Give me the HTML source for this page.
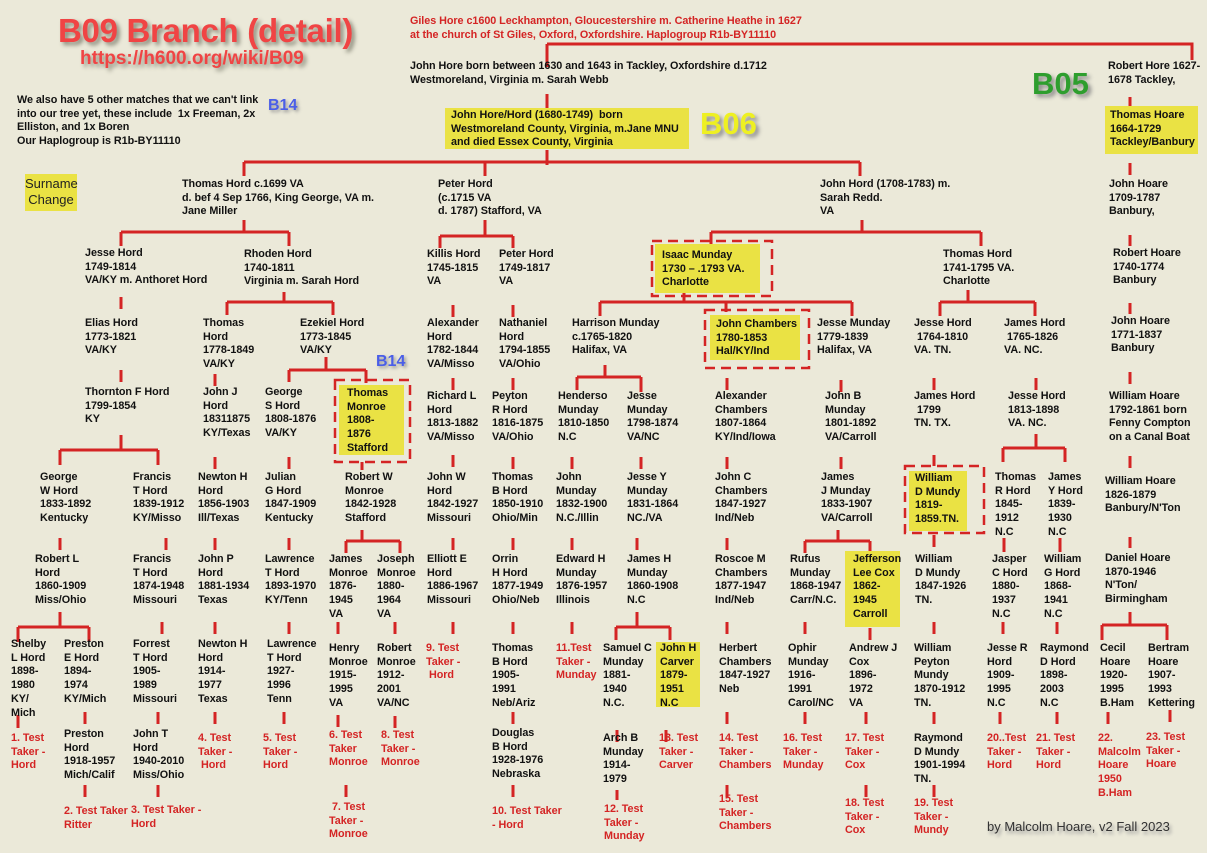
<!DOCTYPE html>
<html><head><meta charset="utf-8"><style>
body{margin:0;}
#c{position:relative;width:1207px;height:853px;background:#ebe9d9;overflow:hidden;font-family:"Liberation Sans",sans-serif;}
.t{position:absolute;font-weight:bold;font-size:10.8px;line-height:13.7px;color:#111;white-space:nowrap;letter-spacing:-0.05px;}
.r{color:#d42424;}
.y{position:absolute;background:#eae244;}
svg{position:absolute;left:0;top:0;}
</style></head><body><div id="c">
<svg width="1207" height="853">
<g stroke="#d42424" stroke-width="3" fill="none">
<path d="M547 44V67M547 44H1192V60M547 94V108M547 150V165M244 162H860M244 162V176M485 162V176M860 162V176"/>
<path d="M1130 97V108M1130 163V175M1130 235V246M1130 303V314M1130 372V384M1130 456V468M1130 537V548M1130 612V625M1102 625H1167M1102 625V640M1167 625V640"/>
<path d="M244 220V232M121 232H289M121 232V246M289 232V246"/>
<path d="M485 220V236M440 236H513M440 236V248M513 236V248"/>
<path d="M862 220V232M711 232H981M711 232V245M981 232V246"/>
<path d="M121 297V309M121 370V382M121 435V450M60 450H158M60 450V465M158 450V465M60 538V550M166 538V550M162 622V634M158 712V724M158 785V797"/>
<path d="M284 292V302M227 302H333M227 302V315M333 302V315"/>
<path d="M215 374V386M215 457V469M215 538V550M215 622V634M215 712V724"/>
<path d="M326 357V370M289 370H366M289 370V382M366 370V383M289 457V469M289 538V550M289 622V634M284 712V724"/>
<path d="M362 462V470M362 530V541M346 541H400M346 541V553M400 541V553M338 622V634M338 715V727M346 785V797M395 622V634M395 716V728"/>
<path d="M453 305V317M453 378V390M453 455V467M453 538V550M453 622V634"/>
<path d="M513 305V317M513 378V390M513 457V469M513 538V550M513 622V634M513 712V724M513 785V797"/>
<path d="M684 293V302M600 302H852M600 302V316M726 302V312M852 302V316"/>
<path d="M605 365V377M577 377H641M577 377V390M641 377V392M572 457V469M572 538V550M572 622V634"/>
<path d="M641 457V469M637 538V550M637 612V627M616 627H670M616 627V640M670 627V640M617 730V742M617 790V800M666 730V742"/>
<path d="M727 378V390M727 457V469M727 538V550M727 622V634M727 712V724M727 785V797"/>
<path d="M841 380V392M841 457V469M838 530V541M805 541H870M805 541V553M870 541V553M805 622V634M805 712V724M870 628V640M866 712V724M866 785V797"/>
<path d="M968 290V302M940 302H1035M940 302V316M1035 302V316"/>
<path d="M934 378V390M934 455V466M934 535V547M934 622V634M934 712V724M934 785V797"/>
<path d="M1036 378V390M1036 434V448M1003 448H1065M1003 448V462M1065 448V462M1004 538V552M1060 538V552M1003 622V634M1000 712V724M1057 622V634M1057 712V724"/>
<path d="M1108 712V724M1170 710V722"/>
<path d="M60 612V627M18 627H89M18 627V642M89 627V642M18 715V728M85 712V724M85 785V797"/>
</g>
</svg>
<div class="y" style="left:25px;top:174px;width:52px;height:37px"></div>
<div class="y" style="left:445px;top:108px;width:244px;height:41px"></div>
<div class="y" style="left:1105px;top:106px;width:93px;height:48px"></div>
<div class="y" style="left:655px;top:244px;width:105px;height:49px"></div>
<div class="y" style="left:710px;top:315px;width:90px;height:45px"></div>
<div class="y" style="left:339px;top:385px;width:65px;height:70px"></div>
<div class="y" style="left:909px;top:471px;width:58px;height:60px"></div>
<div class="y" style="left:845px;top:551px;width:55px;height:76px"></div>
<div class="y" style="left:656px;top:642px;width:44px;height:65px"></div>
<svg width="1207" height="853"><g stroke="#d42424" stroke-width="2.5" fill="none" stroke-dasharray="10,6">
<rect x="652" y="241" width="120" height="55"/>
<rect x="705" y="310" width="104" height="58"/>
<rect x="335" y="380" width="75" height="82"/>
<rect x="905" y="466" width="79" height="67"/>
</g></svg>
<div style="position:absolute;left:58px;top:12px;font:bold 33px 'Liberation Sans',sans-serif;color:#f04444;text-shadow:3px 3px 4px #8a8a7a;white-space:nowrap;letter-spacing:-0.3px">B09 Branch (detail)</div>
<div style="position:absolute;left:80px;top:48px;font:bold 19px 'Liberation Sans',sans-serif;color:#f04444;text-shadow:3px 3px 4px #8a8a7a;white-space:nowrap">https://h600.org/wiki/B09</div>
<div style="position:absolute;left:268px;top:97px;font:bold 16px 'Liberation Sans',sans-serif;color:#4a5ee8;text-shadow:2px 2px 3px #999">B14</div>
<div style="position:absolute;left:376px;top:353px;font:bold 16px 'Liberation Sans',sans-serif;color:#4a5ee8;text-shadow:2px 2px 3px #999">B14</div>
<div style="position:absolute;left:700px;top:106px;font:bold 31px 'Liberation Sans',sans-serif;color:#eef022;text-shadow:3px 3px 4px #888">B06</div>
<div style="position:absolute;left:1032px;top:66px;font:bold 31px 'Liberation Sans',sans-serif;color:#2e9e2e;text-shadow:3px 3px 4px #888">B05</div>
<div style="position:absolute;left:25px;top:176px;width:52px;text-align:center;font:13px/16px 'Liberation Sans',sans-serif;color:#222">Surname<br>Change</div>
<div style="position:absolute;left:987px;top:819px;font:13px 'Liberation Sans',sans-serif;color:#333;text-shadow:2px 3px 3px #999;white-space:nowrap">by Malcolm Hoare, v2 Fall 2023</div>

<div class="t" style="left:17px;top:94px">We also have 5 other matches that we can't link<br>into our tree yet, these include &nbsp;1x Freeman, 2x<br>Elliston, and 1x Boren<br>Our Haplogroup is R1b-BY11110</div>
<div class="t r" style="left:410px;top:15px">Giles Hore c1600 Leckhampton, Gloucestershire m. Catherine Heathe in 1627<br>at the church of St Giles, Oxford, Oxfordshire. Haplogroup R1b-BY11110</div>
<div class="t" style="left:410px;top:60px">John Hore born between 1630 and 1643 in Tackley, Oxfordshire d.1712<br>Westmoreland, Virginia m. Sarah Webb</div>
<div class="t" style="left:451px;top:109px">John Hore/Hord (1680-1749) &nbsp;born<br>Westmoreland County, Virginia, m.Jane MNU<br>and died Essex County, Virginia</div>
<div class="t" style="left:1108px;top:60px">Robert Hore 1627-<br>1678 Tackley,</div>
<div class="t" style="left:1110px;top:109px">Thomas Hoare<br>1664-1729<br>Tackley/Banbury</div>
<div class="t" style="left:1109px;top:178px">John Hoare<br>1709-1787<br>Banbury,</div>
<div class="t" style="left:1113px;top:247px">Robert Hoare<br>1740-1774<br>Banbury</div>
<div class="t" style="left:1111px;top:315px">John Hoare<br>1771-1837<br>Banbury</div>
<div class="t" style="left:1109px;top:390px">William Hoare<br>1792-1861 born<br>Fenny Compton<br>on a Canal Boat</div>
<div class="t" style="left:1105px;top:475px">William Hoare<br>1826-1879<br>Banbury/N'Ton</div>
<div class="t" style="left:1105px;top:552px">Daniel Hoare<br>1870-1946<br>N'Ton/<br>Birmingham</div>
<div class="t" style="left:1100px;top:642px">Cecil<br>Hoare<br>1920-<br>1995<br>B.Ham</div>
<div class="t" style="left:1148px;top:642px">Bertram<br>Hoare<br>1907-<br>1993<br>Kettering</div>
<div class="t r" style="left:1098px;top:732px">22.<br>Malcolm<br>Hoare<br>1950<br>B.Ham</div>
<div class="t r" style="left:1146px;top:731px">23. Test<br>Taker -<br>Hoare</div>

<div class="t" style="left:182px;top:178px">Thomas Hord c.1699 VA<br>d. bef 4 Sep 1766, King George, VA m.<br>Jane Miller</div>
<div class="t" style="left:438px;top:178px">Peter Hord<br>(c.1715 VA<br>d. 1787) Stafford, VA</div>
<div class="t" style="left:820px;top:178px">John Hord (1708-1783) m.<br>Sarah Redd.<br>VA</div>

<div class="t" style="left:85px;top:247px">Jesse Hord<br>1749-1814<br>VA/KY m. Anthoret Hord</div>
<div class="t" style="left:244px;top:248px">Rhoden Hord<br>1740-1811<br>Virginia m. Sarah Hord</div>
<div class="t" style="left:427px;top:248px">Killis Hord<br>1745-1815<br>VA</div>
<div class="t" style="left:499px;top:248px">Peter Hord<br>1749-1817<br>VA</div>
<div class="t" style="left:662px;top:249px">Isaac Munday<br>1730 – .1793 VA.<br>Charlotte</div>
<div class="t" style="left:943px;top:248px">Thomas Hord<br>1741-1795 VA.<br>Charlotte</div>

<div class="t" style="left:85px;top:317px">Elias Hord<br>1773-1821<br>VA/KY</div>
<div class="t" style="left:203px;top:317px">Thomas<br>Hord<br>1778-1849<br>VA/KY</div>
<div class="t" style="left:300px;top:317px">Ezekiel Hord<br>1773-1845<br>VA/KY</div>
<div class="t" style="left:427px;top:317px">Alexander<br>Hord<br>1782-1844<br>VA/Misso</div>
<div class="t" style="left:499px;top:317px">Nathaniel<br>Hord<br>1794-1855<br>VA/Ohio</div>
<div class="t" style="left:572px;top:317px">Harrison Munday<br>c.1765-1820<br>Halifax, VA</div>
<div class="t" style="left:716px;top:318px">John Chambers<br>1780-1853<br>Hal/KY/Ind</div>
<div class="t" style="left:817px;top:317px">Jesse Munday<br>1779-1839<br>Halifax, VA</div>
<div class="t" style="left:914px;top:317px">Jesse Hord<br>&nbsp;1764-1810<br>VA. TN.</div>
<div class="t" style="left:1004px;top:317px">James Hord<br>&nbsp;1765-1826<br>VA. NC.</div>

<div class="t" style="left:85px;top:386px">Thornton F Hord<br>1799-1854<br>KY</div>
<div class="t" style="left:203px;top:386px">John J<br>Hord<br>18311875<br>KY/Texas</div>
<div class="t" style="left:265px;top:386px">George<br>S Hord<br>1808-1876<br>VA/KY</div>
<div class="t" style="left:347px;top:387px">Thomas<br>Monroe<br>1808-<br>1876<br>Stafford</div>
<div class="t" style="left:427px;top:390px">Richard L<br>Hord<br>1813-1882<br>VA/Misso</div>
<div class="t" style="left:492px;top:390px">Peyton<br>R Hord<br>1816-1875<br>VA/Ohio</div>
<div class="t" style="left:558px;top:390px">Henderso<br>Munday<br>1810-1850<br>N.C</div>
<div class="t" style="left:627px;top:390px">Jesse<br>Munday<br>1798-1874<br>VA/NC</div>
<div class="t" style="left:715px;top:390px">Alexander<br>Chambers<br>1807-1864<br>KY/Ind/Iowa</div>
<div class="t" style="left:825px;top:390px">John B<br>Munday<br>1801-1892<br>VA/Carroll</div>
<div class="t" style="left:914px;top:390px">James Hord<br>&nbsp;1799<br>TN. TX.</div>
<div class="t" style="left:1008px;top:390px">Jesse Hord<br>1813-1898<br>VA. NC.</div>

<div class="t" style="left:40px;top:471px">George<br>W Hord<br>1833-1892<br>Kentucky</div>
<div class="t" style="left:133px;top:471px">Francis<br>T Hord<br>1839-1912<br>KY/Misso</div>
<div class="t" style="left:198px;top:471px">Newton H<br>Hord<br>1856-1903<br>Ill/Texas</div>
<div class="t" style="left:265px;top:471px">Julian<br>G Hord<br>1847-1909<br>Kentucky</div>
<div class="t" style="left:345px;top:471px">Robert W<br>Monroe<br>1842-1928<br>Stafford</div>
<div class="t" style="left:427px;top:471px">John W<br>Hord<br>1842-1927<br>Missouri</div>
<div class="t" style="left:492px;top:471px">Thomas<br>B Hord<br>1850-1910<br>Ohio/Min</div>
<div class="t" style="left:556px;top:471px">John<br>Munday<br>1832-1900<br>N.C./Illin</div>
<div class="t" style="left:627px;top:471px">Jesse Y<br>Munday<br>1831-1864<br>NC./VA</div>
<div class="t" style="left:715px;top:471px">John C<br>Chambers<br>1847-1927<br>Ind/Neb</div>
<div class="t" style="left:821px;top:471px">James<br>J Munday<br>1833-1907<br>VA/Carroll</div>
<div class="t" style="left:915px;top:472px">William<br>D Mundy<br>1819-<br>1859.TN.</div>
<div class="t" style="left:995px;top:471px">Thomas<br>R Hord<br>1845-<br>1912<br>N.C</div>
<div class="t" style="left:1048px;top:471px">James<br>Y Hord<br>1839-<br>1930<br>N.C</div>

<div class="t" style="left:35px;top:553px">Robert L<br>Hord<br>1860-1909<br>Miss/Ohio</div>
<div class="t" style="left:133px;top:553px">Francis<br>T Hord<br>1874-1948<br>Missouri</div>
<div class="t" style="left:198px;top:553px">John P<br>Hord<br>1881-1934<br>Texas</div>
<div class="t" style="left:265px;top:553px">Lawrence<br>T Hord<br>1893-1970<br>KY/Tenn</div>
<div class="t" style="left:329px;top:553px">James<br>Monroe<br>1876-<br>1945<br>VA</div>
<div class="t" style="left:377px;top:553px">Joseph<br>Monroe<br>1880-<br>1964<br>VA</div>
<div class="t" style="left:427px;top:553px">Elliott E<br>Hord<br>1886-1967<br>Missouri</div>
<div class="t" style="left:492px;top:553px">Orrin<br>H Hord<br>1877-1949<br>Ohio/Neb</div>
<div class="t" style="left:556px;top:553px">Edward H<br>Munday<br>1876-1957<br>Illinois</div>
<div class="t" style="left:627px;top:553px">James H<br>Munday<br>1860-1908<br>N.C</div>
<div class="t" style="left:715px;top:553px">Roscoe M<br>Chambers<br>1877-1947<br>Ind/Neb</div>
<div class="t" style="left:790px;top:553px">Rufus<br>Munday<br>1868-1947<br>Carr/N.C.</div>
<div class="t" style="left:853px;top:553px">Jefferson<br>Lee Cox<br>1862-<br>1945<br>Carroll</div>
<div class="t" style="left:915px;top:553px">William<br>D Mundy<br>1847-1926<br>TN.</div>
<div class="t" style="left:992px;top:553px">Jasper<br>C Hord<br>1880-<br>1937<br>N.C</div>
<div class="t" style="left:1044px;top:553px">William<br>G Hord<br>1868-<br>1941<br>N.C</div>

<div class="t" style="left:11px;top:638px">Shelby<br>L Hord<br>1898-<br>1980<br>KY/<br>Mich</div>
<div class="t" style="left:64px;top:638px">Preston<br>E Hord<br>1894-<br>1974<br>KY/Mich</div>
<div class="t" style="left:133px;top:638px">Forrest<br>T Hord<br>1905-<br>1989<br>Missouri</div>
<div class="t" style="left:198px;top:638px">Newton H<br>Hord<br>1914-<br>1977<br>Texas</div>
<div class="t" style="left:267px;top:638px">Lawrence<br>T Hord<br>1927-<br>1996<br>Tenn</div>
<div class="t" style="left:329px;top:642px">Henry<br>Monroe<br>1915-<br>1995<br>VA</div>
<div class="t" style="left:377px;top:642px">Robert<br>Monroe<br>1912-<br>2001<br>VA/NC</div>
<div class="t r" style="left:426px;top:642px">9. Test<br>Taker -<br>&nbsp;Hord</div>
<div class="t" style="left:492px;top:642px">Thomas<br>B Hord<br>1905-<br>1991<br>Neb/Ariz</div>
<div class="t r" style="left:556px;top:642px">11.Test<br>Taker -<br>Munday</div>
<div class="t" style="left:603px;top:642px">Samuel C<br>Munday<br>1881-<br>1940<br>N.C.</div>
<div class="t" style="left:660px;top:642px">John H<br>Carver<br>1879-<br>1951<br>N.C</div>
<div class="t" style="left:719px;top:642px">Herbert<br>Chambers<br>1847-1927<br>Neb</div>
<div class="t" style="left:788px;top:642px">Ophir<br>Munday<br>1916-<br>1991<br>Carol/NC</div>
<div class="t" style="left:849px;top:642px">Andrew J<br>Cox<br>1896-<br>1972<br>VA</div>
<div class="t" style="left:914px;top:642px">William<br>Peyton<br>Mundy<br>1870-1912<br>TN.</div>
<div class="t" style="left:987px;top:642px">Jesse R<br>Hord<br>1909-<br>1995<br>N.C</div>
<div class="t" style="left:1040px;top:642px">Raymond<br>D Hord<br>1898-<br>2003<br>N.C</div>

<div class="t r" style="left:11px;top:732px">1. Test<br>Taker -<br>Hord</div>
<div class="t" style="left:64px;top:728px">Preston<br>Hord<br>1918-1957<br>Mich/Calif</div>
<div class="t" style="left:133px;top:728px">John T<br>Hord<br>1940-2010<br>Miss/Ohio</div>
<div class="t r" style="left:198px;top:732px">4. Test<br>Taker -<br>&nbsp;Hord</div>
<div class="t r" style="left:263px;top:732px">5. Test<br>Taker -<br>Hord</div>
<div class="t r" style="left:329px;top:729px">6. Test<br>Taker<br>Monroe</div>
<div class="t r" style="left:381px;top:729px">8. Test<br>Taker -<br>Monroe</div>
<div class="t" style="left:492px;top:727px">Douglas<br>B Hord<br>1928-1976<br>Nebraska</div>
<div class="t" style="left:603px;top:732px">Arch B<br>Munday<br>1914-<br>1979</div>
<div class="t r" style="left:659px;top:732px">13. Test<br>Taker -<br>Carver</div>
<div class="t r" style="left:719px;top:732px">14. Test<br>Taker -<br>Chambers</div>
<div class="t r" style="left:783px;top:732px">16. Test<br>Taker -<br>Munday</div>
<div class="t r" style="left:845px;top:732px">17. Test<br>Taker -<br>Cox</div>
<div class="t" style="left:914px;top:732px">Raymond<br>D Mundy<br>1901-1994<br>TN.</div>
<div class="t r" style="left:987px;top:732px">20..Test<br>Taker -<br>Hord</div>
<div class="t r" style="left:1036px;top:732px">21. Test<br>Taker -<br>Hord</div>

<div class="t r" style="left:64px;top:805px">2. Test Taker<br>Ritter</div>
<div class="t r" style="left:131px;top:804px">3. Test Taker -<br>Hord</div>
<div class="t r" style="left:329px;top:801px">&nbsp;7. Test<br>Taker -<br>Monroe</div>
<div class="t r" style="left:492px;top:805px">10. Test Taker<br>- Hord</div>
<div class="t r" style="left:604px;top:803px">12. Test<br>Taker -<br>Munday</div>
<div class="t r" style="left:719px;top:793px">15. Test<br>Taker -<br>Chambers</div>
<div class="t r" style="left:845px;top:797px">18. Test<br>Taker -<br>Cox</div>
<div class="t r" style="left:914px;top:797px">19. Test<br>Taker -<br>Mundy</div>
</div></body></html>
